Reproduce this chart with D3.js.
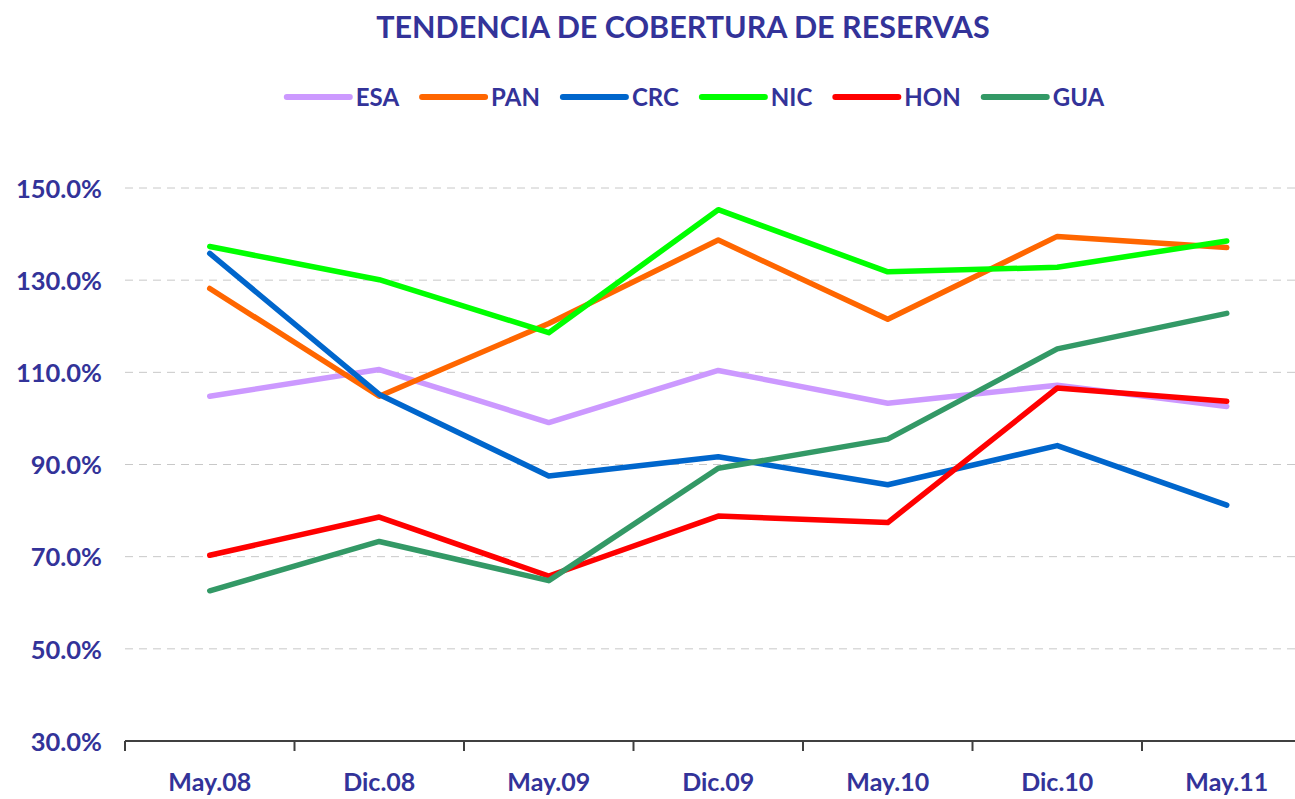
<!DOCTYPE html>
<html>
<head>
<meta charset="utf-8">
<script src="https://cdn.jsdelivr.net/npm/d3@7"></script>
<style>
  html, body { margin: 0; padding: 0; background: #fff; }
  svg { display: block; }
  text { font-family: Lato, "Open Sans", sans-serif; font-weight: bold; fill: #333399; }
</style>
</head>
<body>
<svg id="chart" width="1295" height="799"></svg>
<script>
const categories = ["May.08", "Dic.08", "May.09", "Dic.09", "May.10", "Dic.10", "May.11"];
const seriesNames = ["ESA", "PAN", "CRC", "NIC", "HON", "GUA"];
const ESA = [104.8, 110.6, 99.1, 110.4, 103.3, 107.2, 102.6];
const PAN = [128.2, 104.8, 120.6, 138.7, 121.5, 139.5, 137.1];
const CRC = [135.8, 105.2, 87.5, 91.7, 85.6, 94.1, 81.2];
const NIC = [137.3, 130.1, 118.6, 145.3, 131.8, 132.8, 138.5];
const HON = [70.3, 78.6, 65.8, 78.8, 77.4, 106.6, 103.7];
const GUA = [62.6, 73.3, 64.8, 89.2, 95.5, 115.1, 122.8];
const yTicks = [30, 50, 70, 90, 110, 130, 150];
const title = "TENDENCIA DE COBERTURA DE RESERVAS";

const seriesValues = { ESA, PAN, CRC, NIC, HON, GUA };
const colors = { ESA: "#CC99FF", PAN: "#FF6600", CRC: "#0066CC", NIC: "#00FF00", HON: "#FF0000", GUA: "#339966" };

const svg = d3.select("#chart");
const plotLeft = 125, bandW = 169.5, plotTop = 188, plotBottom = 741;

const x = d3.scaleBand().domain(categories).range([plotLeft, plotLeft + bandW * categories.length]).padding(0);
const y = d3.scaleLinear().domain([30, 150]).range([plotBottom, plotTop]);

// gridlines
svg.append("g").selectAll("line")
  .data(yTicks.filter(t => t !== 30))
  .join("line")
  .attr("x1", plotLeft).attr("x2", x.range()[1])
  .attr("y1", d => y(d)).attr("y2", d => y(d))
  .attr("stroke", "#c8c8c8").attr("stroke-width", 1)
  .attr("stroke-dasharray", "8,6");

// y axis labels
const yAxis = d3.axisLeft(y).tickValues(yTicks).tickFormat(d => d3.format(".1f")(d) + "%").tickSize(0).tickPadding(0);
const gy = svg.append("g").attr("transform", `translate(${plotLeft - 23},0)`).call(yAxis);
gy.select(".domain").remove();
gy.selectAll("text")
  .attr("font-size", 25.5).attr("font-family", "Lato, sans-serif").attr("font-weight", "bold")
  .attr("fill", "#333399").attr("dy", "0.36em");

// x axis
const xAxis = d3.axisBottom(x).tickSize(0).tickPadding(0);
const gx = svg.append("g").attr("transform", `translate(0,${plotBottom})`).call(xAxis);
gx.select(".domain").attr("stroke", "#404040").attr("stroke-width", 2).attr("d", `M${x.range()[0]},0H${x.range()[1]}`);
gx.selectAll(".tick text")
  .attr("font-size", 25).attr("font-family", "Lato, sans-serif").attr("font-weight", "bold")
  .attr("fill", "#333399").attr("y", 50).attr("dy", 0);
gx.append("g").selectAll("line")
  .data(categories)
  .join("line")
  .attr("x1", d => x(d)).attr("x2", d => x(d))
  .attr("y1", 0).attr("y2", 10)
  .attr("stroke", "#404040").attr("stroke-width", 2);

// lines
const line = d3.line()
  .x((d, i) => x(categories[i]) + x.bandwidth() / 2)
  .y(d => y(d));

svg.append("g").selectAll("path")
  .data(seriesNames)
  .join("path")
  .attr("d", s => line(seriesValues[s]))
  .attr("fill", "none")
  .attr("stroke", s => colors[s])
  .attr("stroke-width", 5.5)
  .attr("stroke-linecap", "round")
  .attr("stroke-linejoin", "round");

// title
svg.append("text")
  .attr("x", 683).attr("y", 38)
  .attr("text-anchor", "middle")
  .attr("font-size", 30.5)
  .text(title);

// legend
const legend = svg.append("g");
const lineLen = 63, textGap = 6, itemGap = 23;
let cx = 0;
seriesNames.forEach(s => {
  const g = legend.append("g");
  g.append("line").attr("x1", 0).attr("x2", lineLen).attr("y1", 0).attr("y2", 0)
    .attr("stroke", colors[s]).attr("stroke-width", 6).attr("stroke-linecap", "round");
  const t = g.append("text").attr("x", lineLen + textGap).attr("y", 9).attr("font-size", 24).text(s);
  g.attr("transform", `translate(${cx},0)`);
  cx += lineLen + textGap + t.node().getComputedTextLength() + itemGap;
});
const totalW = cx - itemGap;
legend.attr("transform", `translate(${695.5 - totalW / 2},97)`);
</script>
</body>
</html>
